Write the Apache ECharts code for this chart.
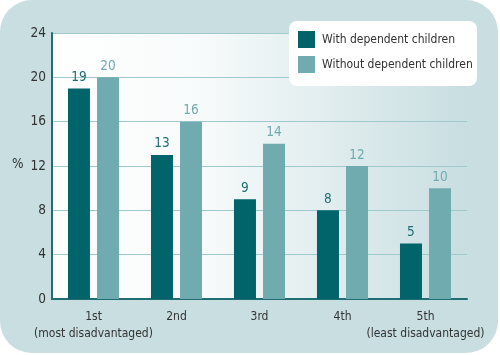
<!DOCTYPE html>
<html><head><meta charset="utf-8">
<script src="https://cdn.jsdelivr.net/npm/echarts@6/dist/echarts.min.js"></script>
<style>html,body{margin:0;padding:0;background:#fff}#c{width:500px;height:355px}</style>
</head><body><div id="c"></div>
<script>
var categories = ['1st\n(most disadvantaged)', '2nd', '3rd', '4th', '5th\n(least disadvantaged)'];
var withChildren = [19, 13, 9, 8, 5];
var withoutChildren = [20, 16, 14, 12, 10];
var seriesNames = ['With dependent children', 'Without dependent children'];
var yTicks = {min: 0, max: 24, interval: 4};

// pick the narrowest installed font
var ctx = document.createElement('canvas').getContext('2d');
function w(f) { ctx.font = '15px ' + f; return ctx.measureText('With dependent children').width; }
var base = w('monospace');
var cands = ["'Liberation Sans Narrow'", "'DejaVu Sans Condensed'", "'Open Sans Condensed'", "'Roboto Condensed'", "'Noto Sans'"];
var FONT = 'sans-serif';
for (var i = 0; i < cands.length; i++) {
  if (Math.abs(w(cands[i] + ', monospace') - base) > 0.5) { FONT = cands[i] + ', sans-serif'; break; }
}
// scale so the legend text matches the reference width (~128px)
var fs = Math.min(15, Math.max(11, 15 * 128 / w(FONT)));
fs = Math.round(fs * 2) / 2;
var ns = Math.min(15, fs + 2); // numbers can be a little larger

var chart = echarts.init(document.getElementById('c'), null, {renderer: 'canvas'});
chart.setOption({
  animation: false,
  textStyle: {fontFamily: FONT},
  graphic: [
    {type: 'rect', z: -10, shape: {x: 0, y: 0, width: 498, height: 353, r: 32}, style: {fill: '#c8dee1'}},
    {type: 'rect', z: 2, shape: {x: 289, y: 21, width: 188, height: 65, r: 8}, style: {fill: '#ffffff'}},
    {type: 'text', left: 12, top: 157, style: {text: '%', font: ns + 'px ' + FONT, fill: '#333'}}
  ],
  legend: {
    z: 5, padding: 0, icon: 'rect',
    orient: 'vertical', left: 298, top: 31, itemWidth: 17, itemHeight: 17, itemGap: 8,
    textStyle: {fontSize: fs + 0.5, color: '#333', fontFamily: FONT, padding: [0, 0, 0, 2]},
    data: seriesNames
  },
  grid: {
    left: 52, right: 33, top: 33, bottom: 56, show: true, borderWidth: 0,
    backgroundColor: new echarts.graphic.LinearGradient(0, 0, 1, 0, [
      {offset: 0, color: '#ffffff'}, {offset: 0.35, color: '#f8fbfb'}, {offset: 1, color: '#c8dee1'}
    ])
  },
  xAxis: {
    type: 'category', data: categories,
    axisLine: {lineStyle: {color: '#1f6e73', width: 2}},
    axisTick: {show: false},
    axisLabel: {interval: 0, color: '#333', fontSize: fs + 0.5, lineHeight: 17, margin: 9, fontFamily: FONT}
  },
  yAxis: {
    type: 'value', min: yTicks.min, max: yTicks.max, interval: yTicks.interval,
    axisLine: {show: true, lineStyle: {color: '#1f6e73', width: 2}},
    axisTick: {show: false},
    axisLabel: {color: '#333', fontSize: ns, margin: 6, fontFamily: FONT},
    splitLine: {lineStyle: {color: '#9fc9cc', width: 1}}
  },
  series: [
    {name: seriesNames[0], type: 'bar', data: withChildren, barWidth: 22, barGap: '32%',
      itemStyle: {color: '#00646a'},
      label: {show: true, position: 'top', distance: 4, color: '#1f6e73', fontSize: ns, fontFamily: FONT}},
    {name: seriesNames[1], type: 'bar', data: withoutChildren, barWidth: 22,
      itemStyle: {color: '#70abaf'},
      label: {show: true, position: 'top', distance: 4, color: '#70abaf', fontSize: ns, fontFamily: FONT}}
  ]
});
</script></body></html>
